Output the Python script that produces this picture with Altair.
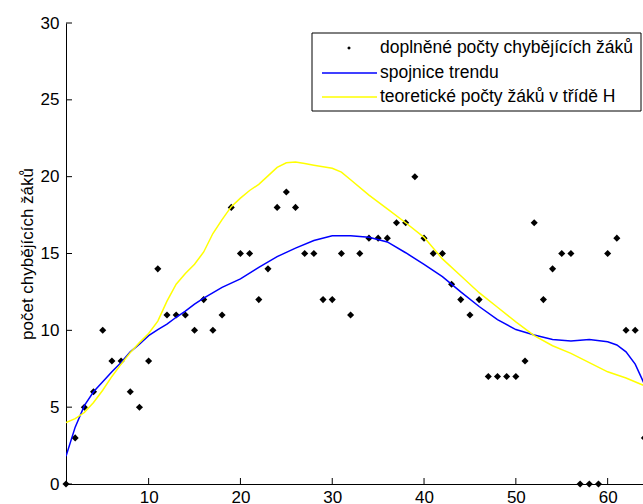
import altair as alt
import pandas as pd

# Daily counts of absent pupils (day index 1..64)
day = list(range(1, 65))
absent = [0, 3, 5, 6, 10, 8, 8, 6, 5, 8,
          14, 11, 11, 11, 10, 12, 10, 11, 18, 15,
          15, 12, 14, 18, 19, 18, 15, 15, 12, 12,
          15, 11, 15, 16, 16, 16, 17, 17, 20, 16,
          15, 15, 13, 12, 11, 12, 7, 7, 7, 7,
          8, 17, 12, 14, 15, 15, 0, 0, 0, 15,
          16, 10, 10, 3]

# Trend line
trend_x = [1, 2, 3, 4, 5, 6, 7, 8, 9, 10, 11, 12, 13, 14, 15, 16, 18, 20, 22, 24,
           26, 28, 30, 32, 34, 36, 38, 40, 42, 44, 46, 48, 50, 52, 54, 56, 58, 60,
           61, 62, 63, 64]
trend_y = [1.8, 3.7, 5.1, 6.0, 6.65, 7.3, 7.9, 8.6, 9.1, 9.65, 10.05, 10.4, 10.85,
           11.25, 11.7, 12.1, 12.8, 13.35, 14.1, 14.8, 15.35, 15.85, 16.15, 16.15,
           16.05, 15.75, 15.05, 14.3, 13.5, 12.5, 11.55, 10.7, 10.05, 9.7, 9.4, 9.3,
           9.4, 9.25, 9.05, 8.6, 7.8, 6.5]

# Theoretical counts for class H
theory_x = [1, 2, 3, 4, 5, 6, 7, 8, 9, 10, 11, 12, 13, 14, 15, 16, 17, 18, 19, 20,
            21, 22, 23, 24, 25, 26, 27, 28, 29, 30, 31, 32, 34, 36, 38, 40, 42, 44,
            46, 48, 50, 52, 54, 56, 58, 60, 62, 64]
theory_y = [4.0, 4.25, 4.65, 5.3, 6.1, 7.0, 7.8, 8.55, 9.2, 9.8, 10.6, 11.9, 13.0,
            13.7, 14.3, 15.1, 16.3, 17.2, 18.05, 18.6, 19.1, 19.5, 20.05, 20.6, 20.9,
            20.95, 20.85, 20.75, 20.65, 20.55, 20.3, 19.8, 18.8, 17.9, 17.0, 16.05,
            14.65, 13.55, 12.45, 11.5, 10.55, 9.65, 9.0, 8.5, 7.9, 7.3, 6.9, 6.4]

x_ticks = [10, 20, 30, 40, 50, 60]
y_ticks = [0, 5, 10, 15, 20, 25, 30]
series_names = ["doplněné počty chybějících žáků",
                "spojnice trendu",
                "teoretické počty žáků v třídě H"]
y_title = "počet chybějících žáků"

W, H = 577, 461
FONT = "Liberation Sans"
FS = 17

xs = alt.Scale(domain=[1, 63.85], nice=False, zero=False)
ys = alt.Scale(domain=[0, 30], nice=False, zero=False)

x_axis = alt.Axis(values=x_ticks, ticks=False, grid=False, labelPadding=5,
                  domainColor="black", domainWidth=1, labelColor="black",
                  labelFont=FONT, labelFontSize=FS, title="")
y_axis = alt.Axis(values=y_ticks, ticks=False, grid=False, labelPadding=7,
                  domainColor="black", domainWidth=1, labelColor="black",
                  labelFont=FONT, labelFontSize=FS, title=y_title,
                  titleFont=FONT, titleFontSize=FS, titleFontWeight="normal",
                  titleColor="black", titlePadding=4)


def xenc(field):
    return alt.X(field, scale=xs, axis=x_axis)


def yenc(field):
    return alt.Y(field, scale=ys, axis=y_axis)


pts_df = pd.DataFrame({"den": day, "pocet": absent})
trend_df = pd.DataFrame({"den": trend_x, "pocet": trend_y})
theory_df = pd.DataFrame({"den": theory_x, "pocet": theory_y})

points = alt.Chart(pts_df).mark_point(
    shape="diamond", filled=True, color="black", size=50, opacity=1
).encode(x=xenc("den:Q"), y=yenc("pocet:Q"))

trend = alt.Chart(trend_df).mark_line(
    color="#0000ff", strokeWidth=1.5, clip=True
).encode(x=xenc("den:Q"), y=yenc("pocet:Q"), order="den:Q")

theory = alt.Chart(theory_df).mark_line(
    color="#ffff00", strokeWidth=1.5, clip=True
).encode(x=xenc("den:Q"), y=yenc("pocet:Q"), order="den:Q")

# Inward tick marks on both axes
xt = alt.Chart(pd.DataFrame({"t": x_ticks})).mark_rule(
    color="black", strokeWidth=1
).encode(x=xenc("t:Q"), y=alt.value(H), y2=alt.value(H - 6))

yt = alt.Chart(pd.DataFrame({"t": y_ticks})).mark_rule(
    color="black", strokeWidth=1
).encode(y=yenc("t:Q"), x=alt.value(0), x2=alt.value(6))

# Legend box
one = pd.DataFrame({"k": [0]})
box = alt.Chart(one).mark_rect(
    fill="white", stroke="black", strokeWidth=1
).encode(x=alt.value(246), x2=alt.value(575), y=alt.value(10), y2=alt.value(88))

leg_pt = alt.Chart(one).mark_point(
    shape="diamond", filled=True, color="black", size=14, opacity=1
).encode(x=alt.value(283), y=alt.value(25))

leg_blue = alt.Chart(one).mark_rule(color="#0000ff", strokeWidth=1.5).encode(
    x=alt.value(256), x2=alt.value(311), y=alt.value(50))
leg_yellow = alt.Chart(one).mark_rule(color="#ffff00", strokeWidth=1.5).encode(
    x=alt.value(256), x2=alt.value(311), y=alt.value(74))

leg_texts = []
for name, yy in zip(series_names, [25, 50, 74]):
    leg_texts.append(
        alt.Chart(one).mark_text(
            align="left", baseline="middle", font=FONT, fontSize=17.5, color="black"
        ).encode(x=alt.value(314), y=alt.value(yy), text=alt.value(name))
    )

chart = alt.layer(
    points, trend, theory, xt, yt, box, leg_pt, leg_blue, leg_yellow, *leg_texts
).properties(
    width=W, height=H,
    autosize=alt.AutoSizeParams(type="none"),
    padding={"left": 66, "top": 23, "right": 0, "bottom": 20},
    background="white",
).configure_view(stroke=None)

chart.save("out.html", embed_options={"renderer": "svg", "actions": False})
